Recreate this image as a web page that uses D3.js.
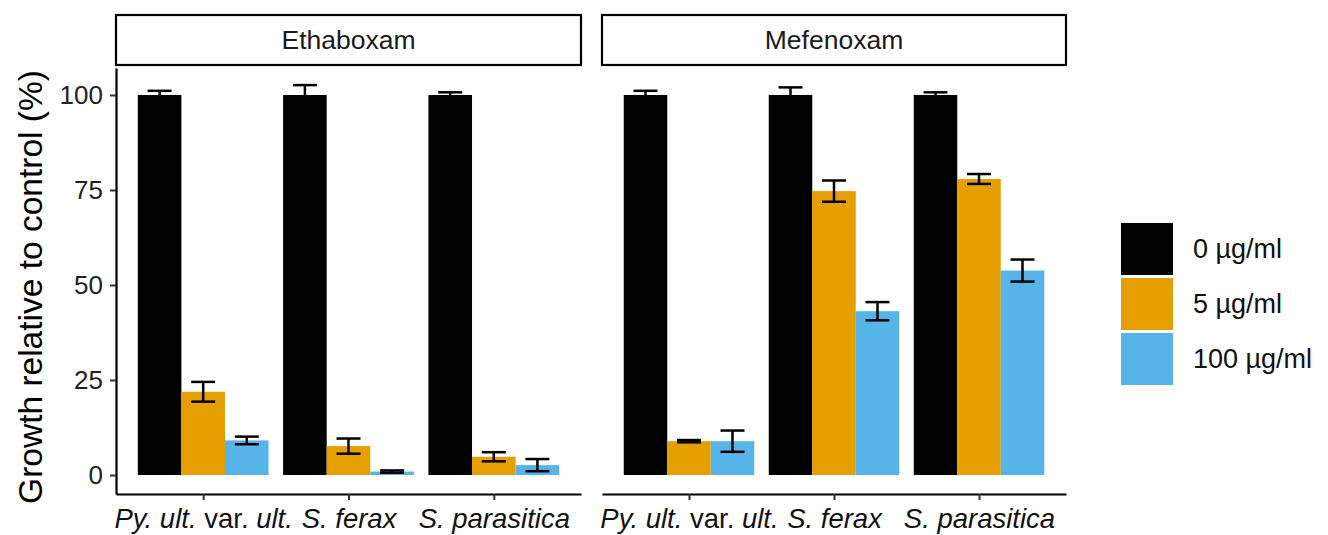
<!DOCTYPE html>
<html>
<head>
<meta charset="utf-8">
<script src="https://cdn.jsdelivr.net/npm/d3@7"></script>
<style>
  body { margin: 0; background: #fff; }
  text { font-family: "Liberation Sans", Arial, Helvetica, sans-serif; }
</style>
</head>
<body>
<svg id="chart" width="1328" height="535"></svg>
<script>
// data
const drugs = ["Ethaboxam", "Mefenoxam"];
const species = ["Py. ult. var. ult.", "S. ferax", "S. parasitica"];
const doses = ["0 µg/ml", "5 µg/ml", "100 µg/ml"];
const doseColors = ["#000000", "#E69F00", "#56B4E9"];
const yTicks = [0, 25, 50, 75, 100];

// mean growth per species (rows) and dose (cols)
const ethaboxamMean = [[100, 21.9, 9.1], [100, 7.6, 0.9], [100, 4.8, 2.6]];
const ethaboxamErr  = [[1.1, 2.6, 1.0], [2.6, 2.0, 0.3], [0.7, 1.2, 1.6]];
const mefenoxamMean = [[100, 8.9, 8.9], [100, 74.7, 43.1], [100, 77.9, 53.8]];
const mefenoxamErr  = [[1.1, 0.3, 2.8], [2.0, 2.8, 2.4], [0.7, 1.3, 2.9]];

// tick label parts: [text, italic]
const speciesLabels = [
  [["Py. ult.", true], [" var. ", false], ["ult.", true]],
  [["S. ferax", true]],
  [["S. parasitica", true]]
];

const means = [ethaboxamMean, mefenoxamMean];
const errs = [ethaboxamErr, mefenoxamErr];

const svg = d3.select("#chart");

const panels = [[116, 581], [602, 1066]];
const plotTop = 68, plotBottom = 494;

const y = d3.scaleLinear().domain([-5, 107.1]).range([plotBottom, plotTop]);

drugs.forEach((drug, p) => {
  const [x0, x1] = panels[p];
  const x = d3.scalePoint().domain(species).range([x0, x1]).padding(0.6);
  const step = x.step();
  const sub = d3.scaleBand().domain(doses).range([-0.45 * step, 0.45 * step]);

  const g = svg.append("g");

  // strip
  g.append("rect")
    .attr("x", x0).attr("y", 15)
    .attr("width", x1 - x0).attr("height", 50)
    .attr("fill", "#fff").attr("stroke", "#000").attr("stroke-width", 2.2);
  g.append("text")
    .attr("x", (x0 + x1) / 2).attr("y", 40)
    .attr("dy", "0.35em")
    .attr("text-anchor", "middle")
    .attr("font-size", 26.5).attr("fill", "#1a1a1a")
    .text(drug);

  // bars
  const rows = [];
  species.forEach((s, i) => {
    doses.forEach((d, j) => {
      rows.push({ s, d, j, v: means[p][i][j], e: errs[p][i][j] });
    });
  });

  g.selectAll("rect.bar").data(rows).enter().append("rect")
    .attr("class", "bar")
    .attr("x", r => x(r.s) + sub(r.d))
    .attr("width", sub.bandwidth())
    .attr("y", r => y(r.v))
    .attr("height", r => y(0) - y(r.v))
    .attr("fill", r => doseColors[r.j]);

  // error bars
  const cap = 12;
  const eb = g.selectAll("g.err").data(rows).enter().append("g")
    .attr("class", "err")
    .attr("stroke", "#000").attr("stroke-width", 2.5);
  const cx = r => x(r.s) + sub(r.d) + sub.bandwidth() / 2;
  eb.append("line")
    .attr("x1", cx).attr("x2", cx)
    .attr("y1", r => y(r.v + r.e)).attr("y2", r => y(r.v - r.e));
  eb.append("line")
    .attr("x1", r => cx(r) - cap).attr("x2", r => cx(r) + cap)
    .attr("y1", r => y(r.v + r.e)).attr("y2", r => y(r.v + r.e));
  eb.append("line")
    .attr("x1", r => cx(r) - cap).attr("x2", r => cx(r) + cap)
    .attr("y1", r => y(r.v - r.e)).attr("y2", r => y(r.v - r.e));

  // x axis
  const xa = g.append("g")
    .attr("transform", `translate(0,${plotBottom})`)
    .call(d3.axisBottom(x).tickSize(6).tickSizeOuter(0).tickPadding(8));
  xa.select(".domain").attr("stroke", "#000").attr("stroke-width", 2.2);
  xa.selectAll(".tick line").attr("stroke", "#333").attr("stroke-width", 2);
  xa.selectAll(".tick text")
    .attr("font-size", 27.5).attr("fill", "#111")
    .text(null)
    .each(function(d, i) {
      const t = d3.select(this);
      speciesLabels[i].forEach(([txt, it]) => {
        t.append("tspan")
          .attr("font-style", it ? "italic" : "normal")
          .style("white-space", "pre")
          .text(txt);
      });
    });

  // y axis only on first panel
  if (p === 0) {
    const ya = g.append("g")
      .attr("transform", `translate(${x0},0)`)
      .call(d3.axisLeft(y).tickValues(yTicks).tickSize(6).tickSizeOuter(0).tickPadding(7));
    ya.select(".domain").attr("stroke", "#000").attr("stroke-width", 2.2);
    ya.selectAll(".tick line").attr("stroke", "#333").attr("stroke-width", 2);
    ya.selectAll(".tick text").attr("font-size", 26).attr("fill", "#222");
  }
});

// y title
svg.append("text")
  .attr("transform", `translate(42,287) rotate(-90)`)
  .attr("text-anchor", "middle")
  .attr("font-size", 33.5).attr("fill", "#000")
  .text("Growth relative to control (%)");

// legend
const lg = svg.append("g").attr("transform", "translate(1121,223)");
doses.forEach((d, i) => {
  lg.append("rect")
    .attr("x", 0).attr("y", i * 55)
    .attr("width", 52).attr("height", 52)
    .attr("fill", doseColors[i]);
  lg.append("text")
    .attr("x", 72).attr("y", i * 55 + 26)
    .attr("dy", "0.35em")
    .attr("font-size", 27).attr("fill", "#111")
    .text(d);
});
</script>
</body>
</html>
